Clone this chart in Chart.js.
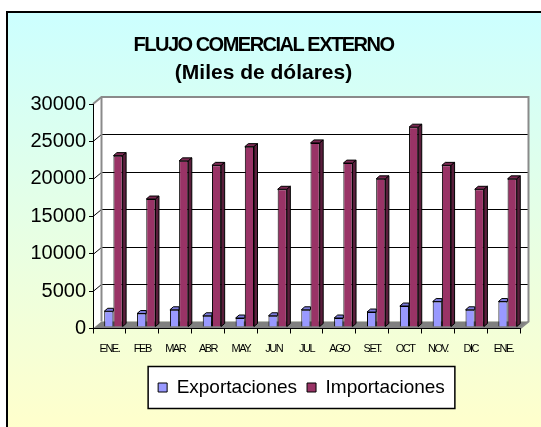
<!DOCTYPE html>
<html><head><meta charset="utf-8">
<script src="https://cdn.jsdelivr.net/npm/chart.js@4/dist/chart.umd.min.js"></script>
<style>html,body{margin:0;padding:0;background:#fff;overflow:hidden}canvas{display:block}</style>
</head><body>
<canvas id="c" width="541" height="427" style="width:541px;height:427px"></canvas>
<script>
const categories = ['ENE.','FEB','MAR','ABR','MAY.','JUN','JUL','AGO','SET.','OCT','NOV.','DIC','ENE.'];
const exportaciones = [2100,1800,2300,1500,1200,1500,2300,1200,2000,2800,3400,2300,3400];
const importaciones = [22900,17100,22200,21600,24100,18400,24600,21900,19800,26700,21600,18400,19800];
const yTicks = [0,5000,10000,15000,20000,25000,30000];
const titleLines = ['FLUJO COMERCIAL EXTERNO','(Miles de dólares)'];

const DX = 8.5, DY = 7, BDX = 3.5, BDY = 3;
const faceColors = [{top:'#7B7BDB', side:'#5C5CB0'}, {top:'#7A2952', side:'#5A1E3C'}];

const excel3d = {
  id: 'excel3d',
  afterLayout(chart) {
    const lg = chart.legend;
    if (lg) { lg.left += 38; lg.right += 38; }
    const tb = chart.titleBlock;
    if (tb && !tb._spaced) {
      const orig = tb.draw.bind(tb);
      tb.draw = function (area) {
        const ctx = chart.ctx; ctx.save(); ctx.letterSpacing = '-1.5px'; orig(area); ctx.restore();
      };
      tb._spaced = true;
    }
  },
  beforeDraw(chart) {
    const ctx = chart.ctx, W = chart.width, H = chart.height;
    ctx.save();
    ctx.fillStyle = '#fff'; ctx.fillRect(0, 0, W, H);
    const g = ctx.createLinearGradient(0, 12, 0, H);
    g.addColorStop(0, '#CCFFFF'); g.addColorStop(1, '#FFFFCC');
    ctx.fillStyle = g; ctx.fillRect(7, 12, W - 7, H - 12);
    ctx.strokeStyle = '#000'; ctx.lineWidth = 2;
    ctx.beginPath(); ctx.moveTo(7, H + 5); ctx.lineTo(7, 12); ctx.lineTo(W + 5, 12); ctx.stroke();

    const a = chart.chartArea, ys = chart.scales.y;
    const L = a.left, R = a.right, T = a.top, B = a.bottom;
    ctx.fillStyle = '#fff';
    ctx.beginPath(); ctx.moveTo(L, T); ctx.lineTo(L + DX, T - DY); ctx.lineTo(L + DX, B - DY); ctx.lineTo(L, B); ctx.closePath(); ctx.fill();
    ctx.fillRect(L + DX, T - DY, R - L, B - T);
    ctx.strokeStyle = '#000'; ctx.lineWidth = 1;
    yTicks.forEach(v => {
      if (v === 0 || v === 30000) return;
      const py = Math.round(ys.getPixelForValue(v)) + 0.5;
      ctx.beginPath(); ctx.moveTo(L, py); ctx.lineTo(L + DX, py - DY); ctx.lineTo(R + DX, py - DY); ctx.stroke();
    });
    ctx.fillStyle = '#808080';
    ctx.beginPath(); ctx.moveTo(L, B); ctx.lineTo(L + DX, B - DY); ctx.lineTo(R + DX, B - DY); ctx.lineTo(R, B); ctx.closePath(); ctx.fill();
    ctx.strokeStyle = '#8a8a8a'; ctx.lineWidth = 2;
    ctx.beginPath(); ctx.moveTo(L, T); ctx.lineTo(L + DX, T - DY); ctx.lineTo(R + DX, T - DY); ctx.lineTo(R + DX, B - DY); ctx.lineTo(R, B); ctx.stroke();
    ctx.beginPath(); ctx.moveTo(L + DX, T - DY); ctx.lineTo(L + DX, B - DY); ctx.stroke();

    // legend frame
    const lg = chart.legend;
    if (lg && lg.legendHitBoxes && lg.legendHitBoxes.length) {
      const hb = lg.legendHitBoxes, f = hb[0], l = hb[hb.length - 1];
      const cy = f.top + f.height / 2;
      const x0 = f.left - 10, x1 = l.left + l.width + 10;
      ctx.fillStyle = '#fff'; ctx.fillRect(x0, cy - 21, x1 - x0, 42);
      ctx.strokeStyle = '#000'; ctx.lineWidth = 1.5; ctx.strokeRect(x0, cy - 21, x1 - x0, 42);
    }
    ctx.restore();
  },
  beforeDatasetsDraw(chart) { chart.ctx.save(); chart.ctx.translate(4, -1.5); },
  afterDatasetDraw(chart, args) {
    const ctx = chart.ctx, fc = faceColors[args.index];
    const hidden = args.index === 0;
    ctx.save();
    ctx.lineWidth = 1; ctx.strokeStyle = '#000';
    args.meta.data.forEach(bar => {
      const p = bar.getProps(['x', 'y', 'base', 'width'], true);
      const l = p.x - p.width / 2, r = p.x + p.width / 2, y = p.y, b = p.base;
      ctx.fillStyle = fc.top;
      ctx.beginPath(); ctx.moveTo(l, y); ctx.lineTo(l + BDX, y - BDY);
      if (hidden) { ctx.lineTo(r, y - BDY); } else { ctx.lineTo(r + BDX, y - BDY); }
      ctx.lineTo(r, y); ctx.closePath(); ctx.fill(); ctx.stroke();
      if (!hidden) {
        ctx.fillStyle = fc.side;
        ctx.beginPath(); ctx.moveTo(r, y); ctx.lineTo(r + BDX, y - BDY); ctx.lineTo(r + BDX, b - BDY); ctx.lineTo(r, b); ctx.closePath(); ctx.fill(); ctx.stroke();
      }
    });
    ctx.restore();
  },
  afterDatasetsDraw(chart) { chart.ctx.restore(); chart.ctx.letterSpacing = '-1.5px'; },
  afterDraw(chart) { chart.ctx.letterSpacing = '0px'; }
};

new Chart(document.getElementById('c'), {
  type: 'bar',
  data: {
    labels: categories,
    datasets: [
      { label: 'Exportaciones', data: exportaciones, backgroundColor: '#9999FF', borderColor: '#000', borderWidth: 1,
        categoryPercentage: 0.56, barPercentage: 1 },
      { label: 'Importaciones', data: importaciones, backgroundColor: '#993366', borderColor: '#000', borderWidth: 1,
        categoryPercentage: 0.56, barPercentage: 1 }
    ]
  },
  options: {
    responsive: false,
    devicePixelRatio: 1,
    animation: false,
    layout: { padding: { left: 7, right: 21, top: 12, bottom: 20 } },
    plugins: {
      title: { display: true, text: titleLines[0], color: '#000',
        font: { family: "'Liberation Sans', Arial, sans-serif", size: 20, weight: 'bold', lineHeight: 1.2 },
        padding: { top: 21, bottom: 0 } },
      subtitle: { display: true, text: titleLines[1], color: '#000',
        font: { family: "'Liberation Sans', Arial, sans-serif", size: 21, weight: 'bold', lineHeight: 1.2 },
        padding: { top: 3.4, bottom: 18.4 } },
      legend: { position: 'bottom',
        labels: { color: '#000', font: { family: "'Liberation Sans', Arial, sans-serif", size: 19 }, boxWidth: 9, boxHeight: 9, padding: 10 } },
      tooltip: { enabled: false }
    },
    scales: {
      x: {
        grid: { display: true, drawOnChartArea: false, drawTicks: true, tickLength: 5, color: '#000', offset: true },
        border: { display: true, color: '#000', width: 1 },
        ticks: { z: 1, color: '#000', font: { family: "'Liberation Sans', Arial, sans-serif", size: 11 }, padding: 9, maxRotation: 0, autoSkip: false },
        afterFit(s) { s.height = 39.5; }
      },
      y: {
        min: 0, max: 30000,
        grid: { display: true, drawOnChartArea: false, drawTicks: true, tickLength: 4, color: '#000' },
        border: { display: true, color: '#000', width: 1 },
        ticks: { stepSize: 5000, color: '#000', font: { family: "'Liberation Sans', Arial, sans-serif", size: 20 }, padding: 3,
          callback: v => String(v) },
        afterFit(s) { s.width = 86; }
      }
    }
  },
  plugins: [excel3d]
});
</script>
</body></html>
